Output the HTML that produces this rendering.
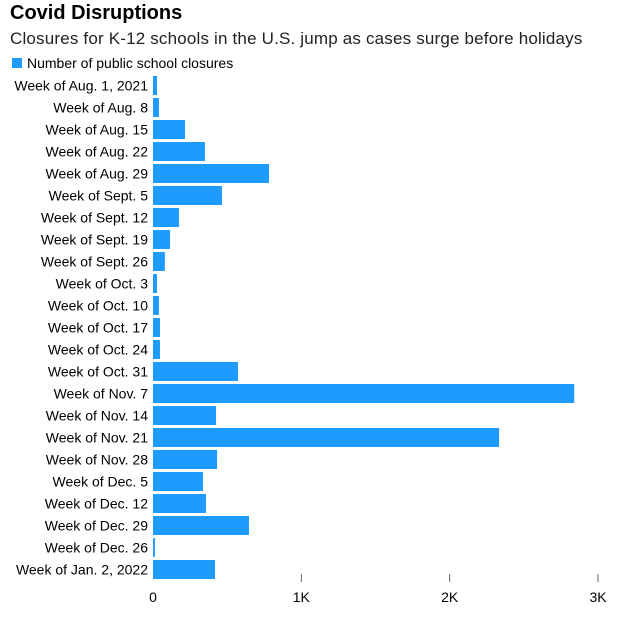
<!DOCTYPE html>
<html><head><meta charset="utf-8">
<style>
body{margin:0;background:#fff;font-family:"Liberation Sans",sans-serif;color:#000}
#wrap{position:relative;width:627px;height:618px;overflow:hidden}
.t{position:absolute;white-space:nowrap}
</style></head><body>
<div id="wrap">
<div class="t" style="left:10px;top:2px;font-size:20px;font-weight:bold">Covid Disruptions</div>
<div class="t" style="left:10px;top:29px;font-size:17px;letter-spacing:0.18px;color:#222">Closures for K-12 schools in the U.S. jump as cases surge before holidays</div>
<div class="t" style="left:12px;top:55px;font-size:14px"><span style="display:inline-block;width:10px;height:10px;background:#1e9bff;margin-right:5px"></span>Number of public school closures</div>
<svg id="svg" width="627" height="618" style="position:absolute;left:0;top:0"></svg>
</div>
<script>
const categories=["Week of Aug. 1, 2021","Week of Aug. 8","Week of Aug. 15","Week of Aug. 22","Week of Aug. 29","Week of Sept. 5","Week of Sept. 12","Week of Sept. 19","Week of Sept. 26","Week of Oct. 3","Week of Oct. 10","Week of Oct. 17","Week of Oct. 24","Week of Oct. 31","Week of Nov. 7","Week of Nov. 14","Week of Nov. 21","Week of Nov. 28","Week of Dec. 5","Week of Dec. 12","Week of Dec. 29","Week of Dec. 26","Week of Jan. 2, 2022"];
const closures=[27,40,216,350,782,465,175,115,80,27,40,47,47,573,2840,425,2333,432,337,357,647,13,418];
const tickValues=[0,1000,2000,3000];
const tickLabels=["0","1K","2K","3K"];
const svg=document.getElementById('svg');
const NS="http://www.w3.org/2000/svg";
const x0=153,x1=598;
function xs(v){return x0+(x1-x0)*v/3000;}
function ys(i){return 76+i*22;}
categories.forEach((c,i)=>{
  const r=document.createElementNS(NS,'rect');
  r.setAttribute('x',xs(0));r.setAttribute('y',ys(i));
  r.setAttribute('width',Math.max(1,xs(closures[i])-xs(0)));r.setAttribute('height',19);
  r.setAttribute('fill','#1e9bff');
  
  
  svg.appendChild(r);
  const t=document.createElementNS(NS,'text');
  t.setAttribute('x',148);t.setAttribute('y',ys(i)+14.5);
  t.setAttribute('text-anchor','end');t.setAttribute('font-size','14');
  t.setAttribute('font-family','Liberation Sans, sans-serif');
  t.textContent=c;
  
  
  svg.appendChild(t);
});
tickValues.forEach((v,i)=>{
  if(v>0){
    const l=document.createElementNS(NS,'line');
    l.setAttribute('x1',xs(v));l.setAttribute('x2',xs(v));
    l.setAttribute('y1',574);l.setAttribute('y2',582);
    l.setAttribute('stroke','#666');
    
    
    svg.appendChild(l);
  }
  const t=document.createElementNS(NS,'text');
  t.setAttribute('x',xs(v));t.setAttribute('y',602);
  t.setAttribute('text-anchor','middle');t.setAttribute('font-size','14');
  t.setAttribute('font-family','Liberation Sans, sans-serif');
  t.textContent=tickLabels[i];
  
  
  svg.appendChild(t);
});
</script>
</body></html>
